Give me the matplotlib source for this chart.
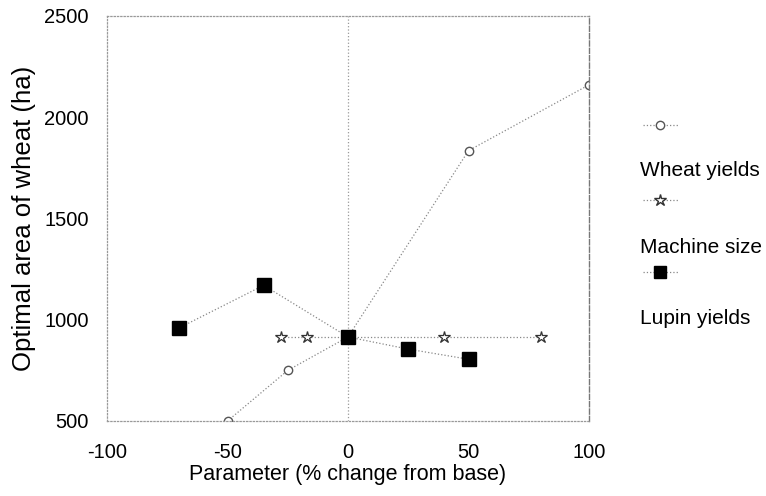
import matplotlib.pyplot as plt
from matplotlib.lines import Line2D

plt.rcParams['font.family'] = ['Liberation Sans', 'DejaVu Sans']
plt.rcParams['axes.unicode_minus'] = False

# data
wheat_x = [-50, -25, 0, 50, 100]
wheat_y = [500, 750, 915, 1835, 2160]
machine_x = [-28, -17, 0, 40, 80]
machine_y = [915, 915, 915, 915, 915]
lupin_x = [-70, -35, 0, 25, 50]
lupin_y = [960, 1170, 915, 855, 805]

series_names = ['Wheat yields', 'Machine size', 'Lupin yields']
x_ticks = [-100, -50, 0, 50, 100]
y_ticks = [500, 1000, 1500, 2000, 2500]

W, H = 766, 496
fig = plt.figure(figsize=(W / 100, H / 100), dpi=100)
ax = fig.add_axes([107 / W, 1 - 421 / H, (589 - 107) / W, (421 - 16) / H])

line_kw = dict(color='#888888', linestyle=':', linewidth=0.9)

ax.plot(wheat_x, wheat_y, marker='o', markersize=6, markerfacecolor='white',
        markeredgecolor='#555555', markeredgewidth=1.0, **line_kw)
ax.plot(machine_x, machine_y, marker='*', markersize=9, markerfacecolor='white',
        markeredgecolor='#333333', markeredgewidth=0.9, **line_kw)
ax.plot(lupin_x, lupin_y, marker='s', markersize=10, markerfacecolor='black',
        markeredgecolor='black', zorder=3, **line_kw)

ax.axvline(0, color='#999999', linestyle=':', linewidth=0.9, zorder=0)

ax.set_xlim(-100, 100)
ax.set_ylim(500, 2500)
ax.set_xticks(x_ticks)
ax.set_yticks(y_ticks)
ax.tick_params(axis='x', length=0, labelsize=14.5, pad=16)
ax.tick_params(axis='y', length=0, labelsize=14.5, pad=13)

for side in ['top', 'bottom', 'left']:
    ax.spines[side].set_linestyle(':')
    ax.spines[side].set_color('#999999')
    ax.spines[side].set_linewidth(0.9)
ax.spines['right'].set_linestyle('--')
ax.spines['right'].set_color('#777777')
ax.spines['right'].set_linewidth(1.0)

ax.set_xlabel('Parameter (% change from base)', fontsize=15.5, labelpad=1)
ax.set_ylabel('Optimal area of wheat (ha)', fontsize=18.5, labelpad=6)

# legend drawn by hand: marker above, label below
handles = [
    dict(marker='o', markersize=6, markerfacecolor='white', markeredgecolor='#555555'),
    dict(marker='*', markersize=9, markerfacecolor='white', markeredgecolor='#333333'),
    dict(marker='s', markersize=9, markerfacecolor='black', markeredgecolor='black'),
]
handle_y = [1 - 125 / H, 1 - 200 / H, 1 - 272 / H]
text_y = [1 - 170 / H, 1 - 247 / H, 1 - 318 / H]
for name, h, hy, ty in zip(series_names, handles, handle_y, text_y):
    fig.add_artist(Line2D([643 / W, 678 / W], [hy, hy], color='#888888',
                          linestyle=':', linewidth=0.9, transform=fig.transFigure))
    fig.add_artist(Line2D([660 / W], [hy], transform=fig.transFigure,
                          linestyle='none', **h))
    fig.text(640 / W, ty, name, fontsize=15, va='center', ha='left')

fig.savefig('out.png', dpi=100)
